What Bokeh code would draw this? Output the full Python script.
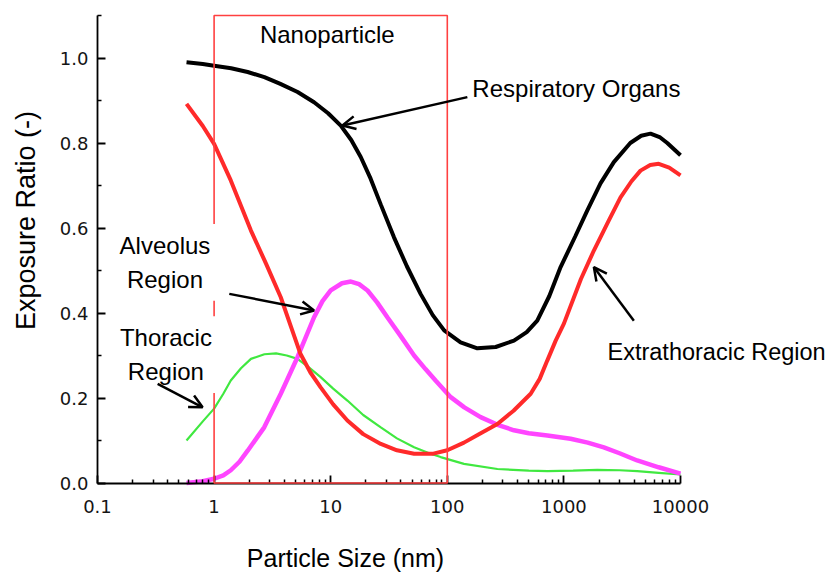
import math
from bokeh.plotting import figure
from bokeh.models import (FixedTicker, CustomJSTickFormatter, BoxAnnotation, Label,
                          Arrow, OpenHead, Range1d)
from bokeh.embed import file_html
from bokeh.resources import INLINE

# Particle size (nm) and exposure ratio for each deposition region
resp_x = [0.58, 0.8, 1.0, 1.4, 1.94, 2.7, 3.7, 5.2, 7.2, 9.5, 12.2, 15, 18.1, 22, 26.9, 34.9, 45, 59, 75, 94,
          130, 181, 260, 373, 480, 591, 750, 937, 1250, 1585, 2060, 2680, 3710, 4600, 5530, 6700, 7700, 10000]
resp_y = [0.990, 0.986, 0.982, 0.976, 0.967, 0.955, 0.939, 0.920, 0.896, 0.870, 0.841, 0.807, 0.767, 0.716, 0.655, 0.578, 0.510, 0.445, 0.395, 0.359,
          0.331, 0.317, 0.320, 0.335, 0.355, 0.382, 0.440, 0.508, 0.580, 0.641, 0.705, 0.755, 0.800, 0.817, 0.822, 0.813, 0.800, 0.771]

extra_x = [0.58, 0.8, 1.0, 1.39, 2.07, 2.8, 3.73, 4.6, 5.5, 6.7, 8.2, 10.5, 13.9, 19, 26.9, 37, 51.9, 76, 100,
           139, 190, 269, 370, 519, 620, 720, 850, 1000, 1400, 1807, 2400, 3060, 3800, 4540, 5500, 6510, 8000, 10000]
extra_y = [0.892, 0.840, 0.798, 0.712, 0.594, 0.515, 0.437, 0.365, 0.304, 0.260, 0.225, 0.185, 0.147, 0.115, 0.092, 0.077, 0.069, 0.069, 0.077,
           0.095, 0.116, 0.139, 0.170, 0.210, 0.245, 0.288, 0.335, 0.375, 0.480, 0.547, 0.615, 0.672, 0.710, 0.735, 0.748, 0.751, 0.742, 0.724]

alv_x = [0.58, 0.8, 1.0, 1.2, 1.39, 1.65, 1.94, 2.69, 3.73, 5.19, 7.2, 8.5, 10, 12.5, 14.9, 17.5, 20.7, 25, 30.6, 40, 51.9, 65, 80,
         107, 140, 193, 270, 373, 500, 721, 1140, 1600, 2200, 3000, 4250, 6500, 10000]
alv_y = [0.000, 0.004, 0.010, 0.018, 0.030, 0.050, 0.076, 0.131, 0.210, 0.296, 0.390, 0.428, 0.453, 0.470, 0.474, 0.468, 0.453, 0.425, 0.390, 0.345, 0.300, 0.268, 0.240,
         0.202, 0.178, 0.155, 0.137, 0.124, 0.117, 0.112, 0.104, 0.095, 0.084, 0.070, 0.053, 0.037, 0.022]

thor_x = [0.58, 0.8, 1.0, 1.2, 1.39, 1.7, 2.07, 2.7, 3.4, 4.2, 5.19, 6.5, 8.2, 10.5, 13.9, 19, 26.9, 37, 51.9, 70, 87.7,
          139, 269, 500, 721, 1200, 1930, 3000, 4250, 6500, 10000]
thor_y = [0.100, 0.145, 0.175, 0.210, 0.241, 0.270, 0.292, 0.303, 0.305, 0.300, 0.292, 0.272, 0.249, 0.222, 0.194, 0.160, 0.131, 0.105, 0.084, 0.070, 0.061,
          0.045, 0.033, 0.029, 0.028, 0.029, 0.031, 0.030, 0.028, 0.024, 0.020]

x_ticks = [0.1, 1, 10, 100, 1000, 10000]
x_minor = [m * d for d in [0.1, 1, 10, 100, 1000] for m in range(2, 10)]
y_ticks = [0.0, 0.2, 0.4, 0.6, 0.8, 1.0]
y_minor = [0.1, 0.3, 0.5, 0.7, 0.9, 1.1]

FONT = "Liberation Sans"
W, H = 835, 574

# pixel placement of the axes box inside the canvas
X0_PX, X1_PX = 97, 680      # 0.1 nm .. 10000 nm
Y0_PX, Y1_PX = 482.5, 15    # ratio 0 .. 1.1
dec = (X1_PX - X0_PX) / 5.0
unit = (Y0_PX - Y1_PX) / 1.1
x_lo = 10 ** (-1 - X0_PX / dec)
x_hi = 10 ** (4 + (W - X1_PX) / dec)
y_lo = -(H - Y0_PX) / unit
y_hi = 1.1 + Y1_PX / unit

p = figure(width=W, height=H, x_axis_type="log",
           x_range=Range1d(x_lo, x_hi), y_range=Range1d(y_lo, y_hi),
           output_backend="svg", toolbar_location=None,
           min_border=0)
p.outline_line_color = None
p.xgrid.visible = False
p.ygrid.visible = False
p.background_fill_color = "white"
p.border_fill_color = "white"

xaxis = p.xaxis[0]
yaxis = p.yaxis[0]
xaxis.fixed_location = 0
xaxis.bounds = (0.1, 10000)
yaxis.fixed_location = 0.1
yaxis.bounds = (0, 1.1)

# axes with inward ticks
for ax in (xaxis, yaxis):
    ax.axis_line_color = "black"
    ax.axis_line_width = 1.8
    ax.major_tick_line_color = "black"
    ax.major_tick_line_width = 1.8
    ax.minor_tick_line_color = "black"
    ax.minor_tick_line_width = 1.5
    ax.major_tick_in = 8
    ax.major_tick_out = 0
    ax.minor_tick_in = 4
    ax.minor_tick_out = 0
    ax.major_label_text_font = "DejaVu Sans"
    ax.major_label_text_font_size = "18px"
    ax.major_label_text_color = "#141414"

xaxis.ticker = FixedTicker(ticks=x_ticks, minor_ticks=x_minor)
xaxis.formatter = CustomJSTickFormatter(code="return tick < 1 ? tick.toFixed(1) : tick.toFixed(0);")
xaxis.major_label_standoff = 17

yaxis.ticker = FixedTicker(ticks=y_ticks, minor_ticks=y_minor)
yaxis.formatter = CustomJSTickFormatter(code="return tick.toFixed(1);")
yaxis.major_label_standoff = 9

# curves
p.line(thor_x, thor_y, line_color="#40e840", line_width=2.2)
p.line(alv_x, alv_y, line_color="#ff45ff", line_width=4.5)
p.line(extra_x, extra_y, line_color="#ff2a2a", line_width=4)
p.line(resp_x, resp_y, line_color="black", line_width=4)

# nanoparticle size band
p.add_layout(BoxAnnotation(left=1, right=100, bottom=0, top=1.1,
                           fill_alpha=0, line_color="#ff4040", line_alpha=1.0, line_width=1.6))

def text(x, y, s, align="center", size="24px", angle=0.0, bg=False):
    lab = Label(x=x, y=y, text=s, text_font=FONT, text_font_size=size,
                text_color="black", text_align=align, text_baseline="middle",
                text_line_height=1.25, angle=angle)
    if bg:
        lab.background_fill_color = "white"
        lab.padding = 8
    p.add_layout(lab)

def px_x(px):
    return 10 ** (-1 + (px - X0_PX) / dec)

def px_y(py):
    return (Y0_PX - py) / unit

# axis titles
text(px_x(345), px_y(557), "Particle Size (nm)", size="25px")
text(px_x(25), px_y(220), "Exposure Ratio (-)", size="27px", angle=math.pi / 2)

text(9.35, 1.055, "Nanoparticle")
text(164, 0.928, "Respiratory Organs", align="left")
text(0.379, 0.519, "Alveolus\nRegion", bg=True)
text(0.386, 0.302, "Thoracic\nRegion", bg=True)
text(px_x(607), 0.309, "Extrathoracic Region", align="left", size="23.5px")

def arrow(x0, y0, x1, y1):
    p.add_layout(Arrow(x_start=x0, y_start=y0, x_end=x1, y_end=y1,
                       line_color="black", line_width=2.5,
                       end=OpenHead(size=13, line_width=2.5, line_color="black")))

arrow(148.6, 0.908, 12.6, 0.841)
arrow(1.35, 0.445, 7.2, 0.406)
arrow(0.328, 0.233, 0.797, 0.178)
arrow(3980, 0.382, 1807, 0.508)

open("out.html", "w").write(file_html(p, INLINE))
